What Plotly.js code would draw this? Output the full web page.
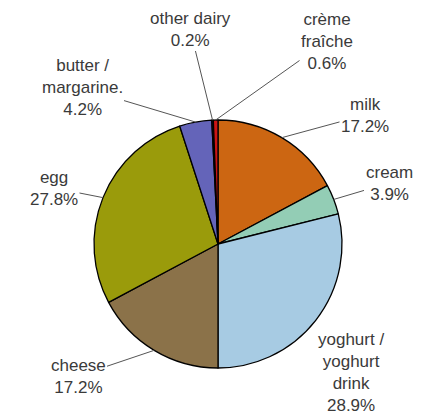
<!DOCTYPE html>
<html>
<head>
<meta charset="utf-8">
<script src="https://cdn.plot.ly/plotly-3.0.1.min.js"></script>
<style>html,body{margin:0;padding:0;background:#fff;}#chart{width:430px;height:416px;}</style>
</head>
<body>
<div id="chart"></div>
<script>
// Data (clockwise from 12 o'clock)
const categories = ['milk', 'cream', 'yoghurt / yoghurt drink', 'cheese', 'egg', 'butter / margarine.', 'other dairy', 'crème fraîche'];
const labelTexts = ['milk', 'cream', 'yoghurt /<br>yoghurt<br>drink', 'cheese', 'egg', 'butter /<br>margarine.', 'other dairy', 'crème<br>fraîche'];
const shares = [17.2, 3.9, 28.9, 17.2, 27.8, 4.2, 0.2, 0.6];
const colors = ['#CC6612', '#93CDB5', '#A7CBE3', '#8B7249', '#9A9B0B', '#6464B9', '#1B1B3A', '#CC1414'];

// Layout geometry (pixels)
const W = 430, H = 416;
const cx = 218, cy = 244, R = 124;
// label centres in pixels, one per category
const labelPos = [[365, 115], [389, 183], [351, 372], [78, 376], [54, 188], [82, 88], [190, 29], [327, 41]];
const useLeader = [true, true, false, true, true, true, true, true];

const total = shares.reduce((a, b) => a + b, 0);
let cum = 0;
const annotations = [];
shares.forEach((v, i) => {
  const mid = (cum + v / 2) / total * 2 * Math.PI;
  cum += v;
  const tx = cx + R * Math.sin(mid);
  const ty = cy - R * Math.cos(mid);
  const txt = labelTexts[i] + '<br>' + v.toFixed(1) + '%';
  const [lx, ly] = labelPos[i];
  const base = {
    text: txt, align: 'center', showarrow: useLeader[i],
    font: {family: 'Liberation Sans, Arial, sans-serif', size: 17, color: '#3a3a3a'},
    xref: 'paper', yref: 'paper'
  };
  if (useLeader[i]) {
    Object.assign(base, {
      x: tx / W, y: 1 - ty / H, ax: lx - tx, ay: ly - ty,
      arrowhead: 0, arrowwidth: 1, arrowcolor: '#555', standoff: 0
    });
  } else {
    Object.assign(base, {x: lx / W, y: 1 - ly / H, xanchor: 'center', yanchor: 'middle'});
  }
  annotations.push(base);
});

const trace = {
  type: 'pie',
  labels: categories,
  values: shares,
  sort: false,
  direction: 'clockwise',
  rotation: 0,
  textinfo: 'none',
  hoverinfo: 'label+percent',
  marker: {colors: colors, line: {color: '#000', width: 1.3}},
  domain: {x: [(cx - R) / W, (cx + R) / W], y: [(H - cy - R) / H, (H - cy + R) / H]}
};

Plotly.newPlot('chart', [trace], {
  width: W, height: H,
  margin: {l: 0, r: 0, t: 0, b: 0},
  showlegend: false,
  paper_bgcolor: '#fff',
  annotations: annotations
}, {displayModeBar: false, staticPlot: true});
</script>
</body>
</html>
